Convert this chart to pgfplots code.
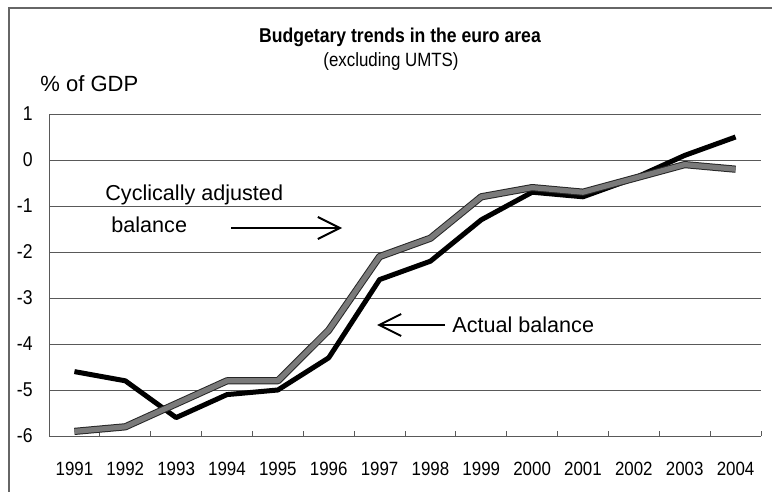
\documentclass[border=0pt]{standalone}
\usepackage{fontspec}
\setmainfont{Liberation Sans}
\newfontfamily\narrowfont{Liberation Sans}[FakeStretch=0.88]
\usepackage{pgfplots}
\pgfplotsset{compat=1.18}
\usetikzlibrary{arrows.meta}
\begin{document}
\begin{tikzpicture}[x=0.5pt,y=-0.5pt]
\useasboundingbox (0,0) rectangle (772,492);
% outer frame (left and top only visible)
\draw[black!60, line width=1pt] (9,492) -- (9,8) -- (772,8);
\begin{axis}[
  at={(24.5pt,-218pt)}, anchor=south west,
  scale only axis, width=356pt, height=161pt,
  xmin=-0.5, xmax=13.5, ymin=-6, ymax=1,
  axis x line*=bottom, axis y line*=left,
  axis line style={-, draw=black!65, line width=0.5pt},
  xtick={0,...,13},
  xticklabels={1991,1992,1993,1994,1995,1996,1997,1998,1999,2000,2001,2002,2003,2004},
  minor xtick={0.5,1.5,...,13.5},
  ytick={-6,-5,...,1},
  yticklabels={-6,-5,-4,-3,-2,-1,0,1},
  ymajorgrids,
  grid style={black!65, line width=0.5pt},
  major tick length=0pt, minor tick length=2.5pt,
  tick align=inside,
  every tick/.style={black!65, line width=0.5pt},
  minor tick style={black!65, line width=0.5pt},
  xticklabel style={anchor=base, inner sep=0pt, yshift=-19.5pt, font=\narrowfont\fontsize{9.6}{11}\selectfont},
  yticklabel style={anchor=east, inner sep=0pt, xshift=-8pt, font=\narrowfont\fontsize{10}{11}\selectfont},
  clip=false,
]
\addplot[black, line width=2.5pt, line join=round] coordinates {
(0,-4.6) (1,-4.8) (2,-5.6) (3,-5.1) (4,-5.0) (5,-4.3) (6,-2.6)
(7,-2.2) (8,-1.3) (9,-0.7) (10,-0.8) (11,-0.4) (12,0.1) (13,0.5)};
\addplot[draw=black!85, line width=0.5pt, double=black!52, double distance=2.6pt, line join=round] coordinates {
(0,-5.9) (1,-5.8) (2,-5.3) (3,-4.8) (4,-4.8) (5,-3.7) (6,-2.1)
(7,-1.7) (8,-0.8) (9,-0.6) (10,-0.7) (11,-0.4) (12,-0.1) (13,-0.2)};
\end{axis}
% titles
\node[anchor=base, inner sep=0pt, font=\narrowfont\bfseries\fontsize{10}{12}\selectfont] at (400,43) {Budgetary trends in the euro area};
\node[anchor=base, inner sep=0pt, font=\narrowfont\fontsize{9.6}{11}\selectfont] at (391,67) {(excluding UMTS)};
\node[anchor=base west, inner sep=0pt, font=\fontsize{11}{13}\selectfont] at (40,92) {\% of GDP};
% annotations
\node[anchor=base west, inner sep=0pt, font=\fontsize{10.8}{13}\selectfont] at (105,200) {Cyclically adjusted};
\node[anchor=base west, inner sep=0pt, font=\fontsize{10.8}{13}\selectfont] at (111,233) {balance};
\draw[black, line width=1pt, -{Straight Barb[length=11pt, width=11pt, line width=1pt]}] (231,228) -- (342,228);
\node[anchor=base west, inner sep=0pt, font=\fontsize{10.8}{13}\selectfont] at (452,332) {Actual balance};
\draw[black, line width=1pt, -{Straight Barb[length=11pt, width=11pt, line width=1pt]}] (445,325) -- (377,325);
\end{tikzpicture}
\end{document}
